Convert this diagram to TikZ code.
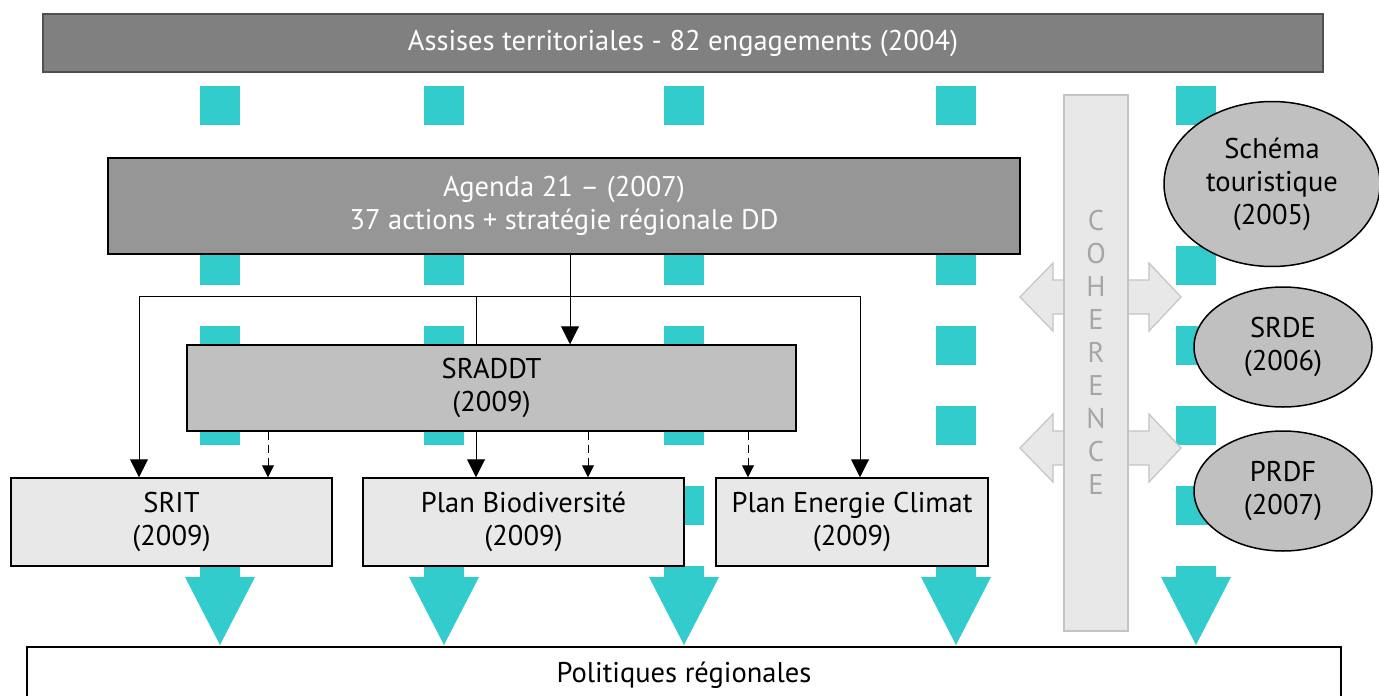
\documentclass[tikz,border=0pt]{standalone}
\usepackage{fontspec}
\setmainfont{PT Sans}
\usetikzlibrary{shapes.geometric,arrows.meta}
\definecolor{cyanbar}{HTML}{33CCCC}
\definecolor{topgray}{HTML}{808080}
\definecolor{topborder}{HTML}{505050}
\definecolor{agendagray}{HTML}{969696}
\definecolor{midgray}{HTML}{C0C0C0}
\definecolor{palegray}{HTML}{E8E8E8}
\definecolor{cohborder}{HTML}{C4C4C4}
\definecolor{cohtext}{HTML}{A6A6A6}
\pgfdeclarelayer{bg}
\pgfdeclarelayer{mid}
\pgfsetlayers{bg,mid,main}
\begin{document}
\begin{tikzpicture}[x=1pt,y=-1pt,
  txt/.style={font=\fontsize{28.5}{33}\selectfont, align=center},
  box/.style={draw=black, line width=1.5pt, inner sep=0pt, txt},
  ell/.style={ellipse, draw=black, line width=1.5pt, fill=midgray, inner sep=0pt, txt},
  conn/.style={line width=1pt, draw=black},
  arr/.style={conn, -{Triangle[width=18pt,length=18pt]}},
  darr/.style={conn, dash pattern=on 8pt off 5pt, -{Triangle[width=12pt,length=12pt]}},
  cyanpart/.style={fill=cyanbar, draw=none},
  dbl/.style={fill=palegray, draw=cohborder, line width=1.2pt}
]
\useasboundingbox (0,0) rectangle (1379,696);

% cyan dashed flow columns
\begin{pgfonlayer}{bg}
\fill[white] (0,0) rectangle (1379,696);
\foreach \cx in {220,444,684,956,1196}{
  \foreach \k in {0,...,5}{
    \fill[cyanpart] (\cx-20,86+80*\k) rectangle (\cx+20,125+80*\k);
  }
  \fill[cyanpart] (\cx-20,566) -- (\cx+20,566) -- (\cx+20,577) -- (\cx+35,577)
    -- (\cx,645) -- (\cx-35,577) -- (\cx-20,577) -- cycle;
}
\end{pgfonlayer}

% coherence double arrows and bar
\foreach \cy in {297,448}{
  \filldraw[dbl] (1020,\cy) -- (1053,\cy-34) -- (1053,\cy-17) -- (1149,\cy-17)
    -- (1149,\cy-34) -- (1181,\cy) -- (1149,\cy+34) -- (1149,\cy+17)
    -- (1053,\cy+17) -- (1053,\cy+34) -- cycle;
}
\node[draw=cohborder, fill=palegray, line width=1.5pt, minimum width=64pt,
  minimum height=536pt, inner sep=0pt] (coh) at (1096,363) {};
\node[txt, text=cohtext, inner sep=0pt] (cohlabel) at (coh.center |- 0,352)
  {C\\O\\H\\E\\R\\E\\N\\C\\E};

% main boxes
\node[box, draw=topborder, fill=topgray, text=white, minimum width=1280pt,
  minimum height=58pt] (top) at (683,43) {Assises territoriales - 82 engagements (2004)};
\node[box, fill=agendagray, text=white, minimum width=912pt, minimum height=96pt]
  (agenda) at (564,206) {Agenda 21 – (2007)\\37 actions + stratégie régionale DD};
\node[box, fill=midgray, minimum width=609pt, minimum height=86pt]
  (sraddt) at (491.5,388) {SRADDT\\(2009)};
\node[box, fill=palegray, minimum width=321pt, minimum height=88pt]
  (srit) at (171.5,522) {SRIT\\(2009)};
\node[box, fill=palegray, minimum width=321pt, minimum height=88pt]
  (bio) at (523.5,522) {Plan Biodiversité\\(2009)};
\node[box, fill=palegray, minimum width=272pt, minimum height=88pt]
  (pec) at (852,522) {Plan Energie Climat\\(2009)};
\node[box, fill=white, minimum width=1314pt, minimum height=56pt]
  (pol) at (684,675) {Politiques régionales};

% ellipses
\node[ell, minimum width=216pt, minimum height=165pt] (schema) at (1272,184)
  {Schéma\\touristique\\(2005)};
\node[ell, minimum width=178pt, minimum height=120pt] (srde) at (1283,347)
  {SRDE\\(2006)};
\node[ell, minimum width=178pt, minimum height=120pt] (prdf) at (1283,491)
  {PRDF\\(2007)};

% connectors
\coordinate (j) at (570,296);
\coordinate (jl) at (139,296);
\coordinate (jm) at (476,296);
\coordinate (jr) at (860,296);
\begin{pgfonlayer}{mid}
\draw[conn] (jl) -- (jr);
\draw[arr] (jl) -- (jl |- srit.north);
\draw[arr] (jm) -- (jm |- bio.north);
\draw[arr] (jr) -- (jr |- pec.north);
\end{pgfonlayer}
\draw[arr] (agenda.south -| j) -- (sraddt.north -| j);
\draw[darr] (sraddt.south -| 268,0) -- (srit.north -| 268,0);
\draw[darr] (sraddt.south -| 588,0) -- (bio.north -| 588,0);
\draw[darr] (sraddt.south -| 748,0) -- (pec.north -| 748,0);
\end{tikzpicture}
\end{document}
